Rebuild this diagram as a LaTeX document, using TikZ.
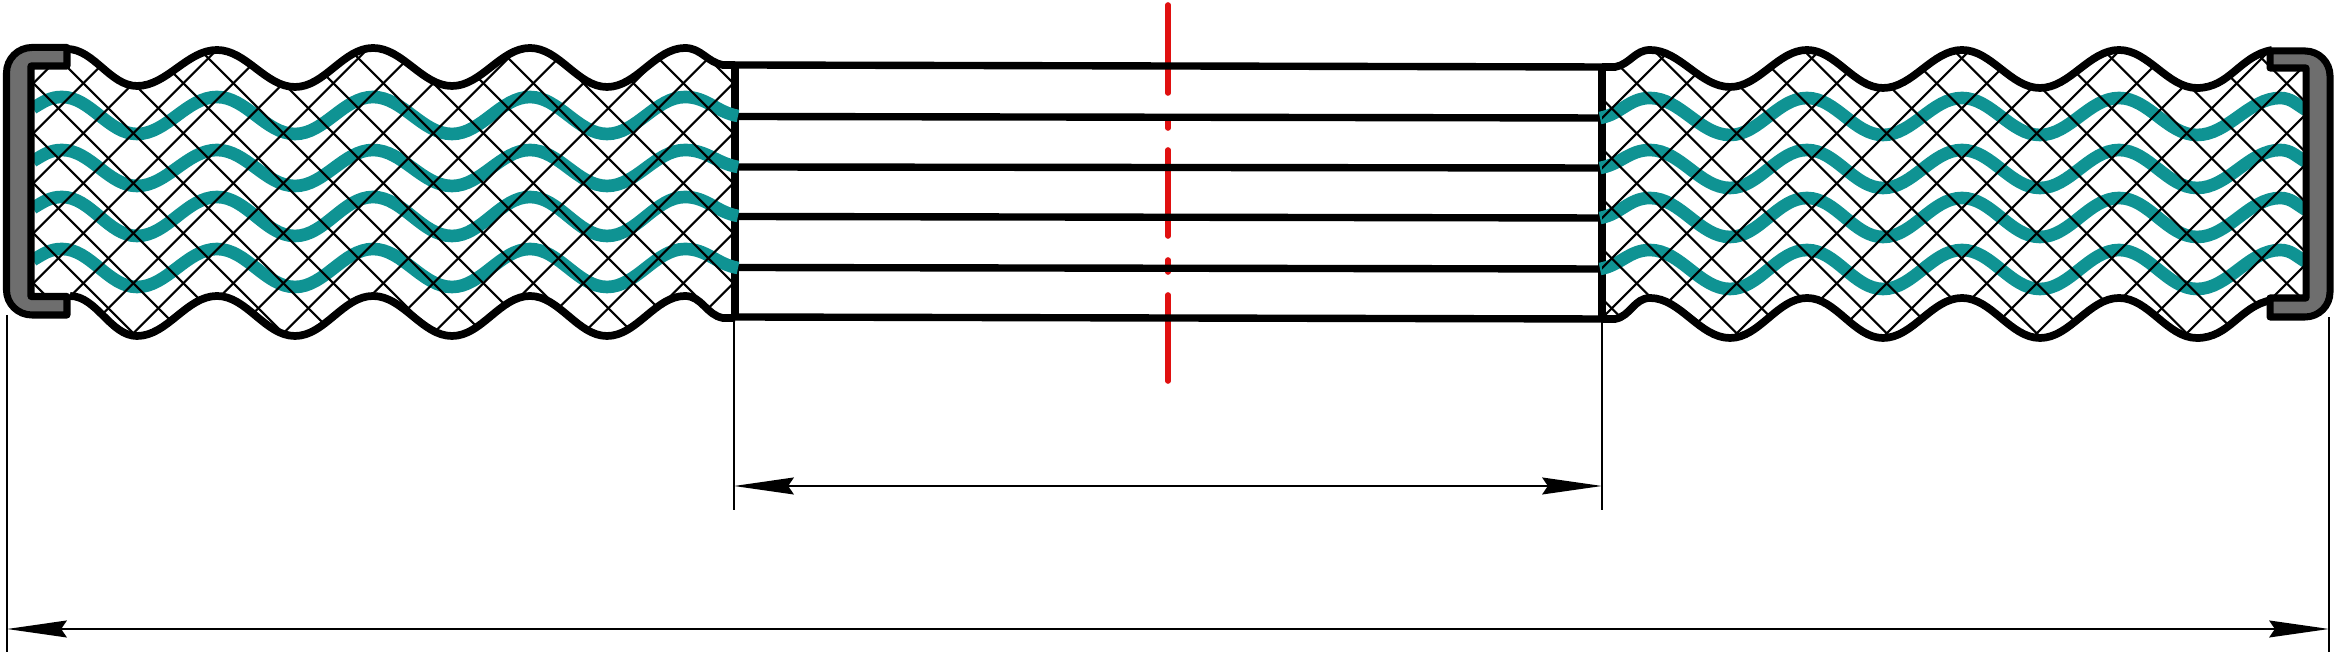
\documentclass[tikz,border=0pt]{standalone}
\usepackage{tikz}
\usetikzlibrary{positioning,arrows.meta}

\definecolor{wirecol}{HTML}{0F9393}
\definecolor{capcol}{HTML}{6E6E6E}
\definecolor{axiscol}{HTML}{E01010}

\tikzset{
  fw/.style={out=0,in=180,looseness=0.87},
  bk/.style={out=180,in=0,looseness=0.87},
  outline/.style={line width=2.2pt,black},
  plate/.style={line width=2.1pt,black},
  wire/.style={line width=3.6pt,wirecol},
  hatchline/.style={line width=0.6pt,black},
  capring/.style={line width=2pt,black,fill=capcol,line join=round},
  axisline/.style={line width=1.6pt,axiscol,line cap=round},
  extline/.style={line width=0.55pt,black},
  dimline/.style={line width=0.6pt,black,>={Stealth[length=17pt,width=4.8pt,inset=1.6pt]},<->}
}

\newcommand{\lefttop}{(67,49) to[fw] (137,86) to[fw] (217,50) to[fw] (295,87) to[fw] (373,48) to[fw] (452,86) to[fw] (530,48) to[fw] (607,87) to[fw] (685,48) to[out=0,in=170] (723,65) -- (735,65)}
\newcommand{\leftbot}{(735,318) -- (723,318) to[out=170,in=0] (685,296) to[bk] (607,336) to[bk] (530,296) to[bk] (452,336) to[bk] (373,296) to[bk] (295,336) to[bk] (217,296) to[bk] (137,336) to[bk] (70,296)}
\newcommand{\righttop}{(1602,67) -- (1615,67) to[out=10,in=180] (1650,50) to[fw] (1730,87) to[fw] (1807,50) to[fw] (1883,88) to[fw] (1962,50) to[fw] (2040,88) to[fw] (2119,50) to[fw] (2197,88) to[out=0,in=190] (2272,50)}
\newcommand{\rightbot}{(2272,300) to[out=190,in=0] (2197,338) to[bk] (2119,298) to[bk] (2040,338) to[bk] (1962,298) to[bk] (1883,338) to[bk] (1807,298) to[bk] (1730,338) to[bk] (1650,298) to[out=180,in=10] (1615,319) -- (1602,319)}

\begin{document}
\begin{tikzpicture}[x=0.01cm,y=-0.01cm]
\useasboundingbox (0,0) rectangle (2337,659);

% Centre axis
\draw[axisline] (1168,5) -- (1168,93);
\draw[axisline] (1168,118) -- (1168,128);
\draw[axisline] (1168,150) -- (1168,236);
\draw[axisline] (1168,260) -- (1168,272);
\draw[axisline] (1168,295) -- (1168,381);

% Layers of the middle block
\foreach \ya/\yb in {65/67,116.5/118,167/168,216.5/218,267.5/269,317/319}
  \draw[plate] (735,\ya) -- (1602,\yb);
\draw[plate] (735,65) -- (735,318);
\draw[plate] (1602,67) -- (1602,319);

% Wires of both bands: crest y, trough y, y at the block
\foreach \c/\t/\e in {97/134/116,150/186/167,197/236/216,249/287/268}
  \draw[wire] (33,\c+11) to[out=30,in=180] (62,\c) to[fw] (137,\t) to[fw] (217,\c) to[fw] (295,\t) to[fw] (373,\c) to[fw] (452,\t) to[fw] (530,\c) to[fw] (607,\t) to[fw] (685,\c) to[out=0,in=170] (738,\e);
\foreach \c/\t/\e in {98/135/118,150/188/168,198/237/218,250/289/269}
  \draw[wire] (1600,\e) to[out=10,in=180] (1650,\c) to[fw] (1730,\t) to[fw] (1807,\c) to[fw] (1883,\t) to[fw] (1962,\c) to[fw] (2040,\t) to[fw] (2119,\c) to[fw] (2197,\t) to[fw] (2280,\c) to[out=0,in=150] (2306,\c+12);

% Cross hatching, clipped to each band
\begin{scope}
\clip \lefttop -- \leftbot -- (67,296) -- (33,296) -- (33,66) -- (67,66) -- cycle;
\foreach \k in {0,...,22} \draw[hatchline] (\k*50+16.7,0) -- ++(-400,400);
\foreach \k in {0,...,21} \draw[hatchline] (\k*50-300,0) -- ++(400,400);
\end{scope}
\begin{scope}
\clip \righttop -- (2272,68) -- (2306,68) -- (2306,298) -- (2272,298) -- \rightbot -- cycle;
\foreach \k in {0,...,21} \draw[hatchline] (\k*50+1620,0) -- ++(-400,400);
\foreach \k in {0,...,21} \draw[hatchline] (\k*50+1253.4,0) -- ++(400,400);
\end{scope}

% Band outlines
\draw[outline] \lefttop;
\draw[outline] \leftbot;
\draw[outline] \righttop;
\draw[outline] \rightbot;

% End caps
\draw[capring] (67,47.5) -- (32,47.5) to[out=180,in=90] (6.5,73) -- (6.5,290) to[out=-90,in=180] (32,315) -- (67,315) -- (67,296.5) -- (31,296.5) -- (31,66) -- (67,66) -- cycle;
\draw[capring] (2270,51) -- (2305,51) to[out=0,in=90] (2330,76) -- (2330,292) to[out=-90,in=0] (2305,317) -- (2270,317) -- (2270,298) -- (2306,298) -- (2306,68) -- (2270,68) -- cycle;

% Dimensions
\coordinate (in1) at (734,319);
\coordinate (in2) at (734,510);
\coordinate (in3) at (1602,319);
\coordinate (in4) at (1602,510);
\coordinate (ou1) at (7,315);
\coordinate (ou2) at (7,652);
\coordinate (ou3) at (2329,317);
\coordinate (ou4) at (2329,652);
\coordinate (ina) at (734,486);
\coordinate (inb) at (1602,486);
\coordinate (oua) at (7,629);
\coordinate (oub) at (2329,629);
\draw[extline] (in1) -- (in2);
\draw[extline] (in3) -- (in4);
\draw[extline] (ou1) -- (ou2);
\draw[extline] (ou3) -- (ou4);
\draw[dimline] (ina) -- (inb);
\draw[dimline] (oua) -- (oub);
\end{tikzpicture}
\end{document}
